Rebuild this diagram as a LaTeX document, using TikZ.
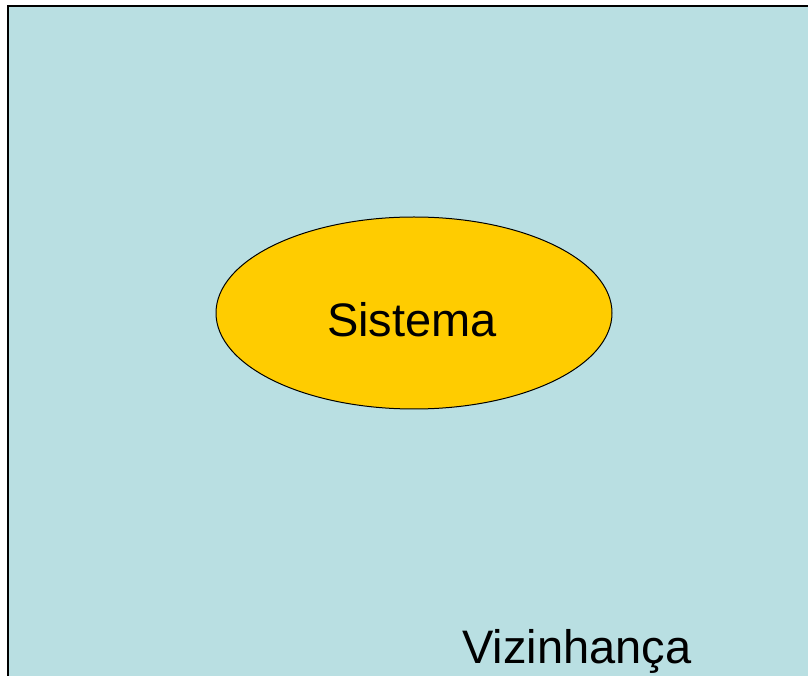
\documentclass[tikz,border=0pt]{standalone}
\usepackage{fontspec}
\setmainfont{Liberation Sans}
\usetikzlibrary{shapes.geometric}
\definecolor{vizcor}{HTML}{B9DFE2}
\definecolor{siscor}{HTML}{FFCC00}
\tikzset{rotulo/.style={font=\fontsize{47}{51}\selectfont,inner sep=0pt}}
\begin{document}
\begin{tikzpicture}[x=1pt,y=1pt]
\useasboundingbox (0,0) rectangle (808,675);
\clip (0,0) rectangle (808,675);
% vizinhanca: a caixa de fundo
\draw[line width=2pt,fill=vizcor] (8,669) rectangle (820,-10);
\node[rotulo,anchor=base west] (vizinhanca) at (462,12){Vizinhança};
% o sistema
\node[ellipse,draw,line width=1pt,fill=siscor,minimum width=396,minimum height=192,inner sep=0pt] (sistema) at (414,362){};
\node[rotulo,anchor=base] (rotsis) at (412,338){Sistema};
\end{tikzpicture}
\end{document}
